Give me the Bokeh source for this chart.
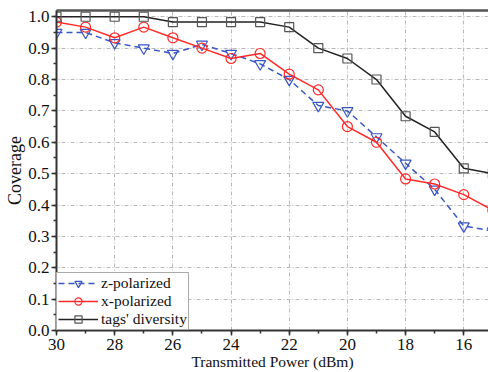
from bokeh.plotting import figure
from bokeh.models import Range1d, SingleIntervalTicker, LinearAxis, FixedTicker, Legend, LegendItem, NumeralTickFormatter
from bokeh.embed import file_html
from bokeh.resources import INLINE

power = [30, 29, 28, 27, 26, 25, 24, 23, 22, 21, 20, 19, 18, 17, 16, 15]
z_polarized = [0.950, 0.950, 0.917, 0.900, 0.883, 0.912, 0.883, 0.850, 0.800, 0.717, 0.700, 0.617, 0.533, 0.450, 0.333, 0.317]
x_polarized = [0.983, 0.967, 0.933, 0.967, 0.933, 0.900, 0.867, 0.883, 0.817, 0.767, 0.650, 0.600, 0.483, 0.467, 0.433, 0.383]
diversity = [1.000, 1.000, 1.000, 1.000, 0.983, 0.983, 0.983, 0.983, 0.967, 0.900, 0.867, 0.800, 0.683, 0.633, 0.517, 0.500]
x_label = "Transmitted Power (dBm)"
y_label = "Coverage"
names = ["z-polarized", "x-polarized", "tags' diversity"]

FONT = "Liberation Serif"

p = figure(width=488, height=372, output_backend="svg", toolbar_location=None,
           x_range=Range1d(30, 15.15), y_range=Range1d(0, 1.02),
           min_border_left=56, min_border_right=0, min_border_top=10, min_border_bottom=0)
p.outline_line_color = None
p.background_fill_color = "white"
p.border_fill_color = "white"

# axes
p.xaxis.ticker = SingleIntervalTicker(interval=2, num_minor_ticks=2)
p.yaxis.ticker = SingleIntervalTicker(interval=0.1, num_minor_ticks=2)
p.yaxis.formatter = NumeralTickFormatter(format="0.0")
for ax in (p.xaxis[0], p.yaxis[0]):
    ax.axis_line_width = 2
    ax.axis_line_color = "#333333"
    ax.major_tick_line_color = "#333333"
    ax.minor_tick_line_color = "#333333"
    ax.major_tick_line_width = 1.5
    ax.minor_tick_line_width = 1.5
    ax.major_tick_in = 0
    ax.major_tick_out = 5
    ax.minor_tick_in = 0
    ax.minor_tick_out = 3
    ax.major_label_text_font = FONT
    ax.major_label_text_font_size = "17px"
    ax.major_label_text_color = "#111111"
    ax.axis_label_text_font = FONT
    ax.axis_label_text_font_style = "normal"
    ax.axis_label_text_color = "#111111"
    ax.major_label_standoff = 2
    ax.axis_label_standoff = 0
p.xaxis.axis_label = x_label
p.yaxis.axis_label = y_label
p.xaxis.axis_label_text_font_size = "15.5px"
p.yaxis.axis_label_text_font_size = "18px"
p.xaxis.major_label_standoff = 3

top = LinearAxis(ticker=FixedTicker(ticks=[]), axis_line_width=2.5, axis_line_color="#555555",
                 major_label_text_font_size="0px", major_tick_line_color=None, minor_tick_line_color=None)
p.add_layout(top, "above")

for g in (p.xgrid[0], p.ygrid[0]):
    g.grid_line_color = "#b8b8b8"
    g.grid_line_dash = "4 2 1 2"
    g.grid_line_width = 1

# series
rz_l = p.line(power, z_polarized, line_color="#3a56c4", line_width=1.5, line_dash="6 4")
rz_m = p.scatter(power, z_polarized, marker="inverted_triangle", size=11, line_color="#3a56c4",
                 fill_color=None, line_width=1.2)
rx_l = p.line(power, x_polarized, line_color="#ff2a2a", line_width=1.5)
rx_m = p.scatter(power, x_polarized, marker="circle", size=10, line_color="#ff2a2a",
                 fill_color=None, line_width=1.2)
rd_l = p.line(power, diversity, line_color="#222222", line_width=1.5)
rd_m = p.scatter(power, diversity, marker="square", size=9, line_color="#555555",
                 fill_color=None, line_width=1.2)

legend = Legend(items=[LegendItem(label=names[0], renderers=[rz_l, rz_m]),
                       LegendItem(label=names[1], renderers=[rx_l, rx_m]),
                       LegendItem(label=names[2], renderers=[rd_l, rd_m])],
                location="bottom_left", margin=0, padding=1, spacing=0,
                glyph_width=40, glyph_height=18, label_height=18, label_standoff=3,
                label_text_font=FONT, label_text_font_size="15.5px", label_text_color="#111111",
                border_line_color="#555555", border_line_width=1.2,
                background_fill_color="white", background_fill_alpha=1.0)
p.add_layout(legend)

open("out.html", "w").write(file_html(p, INLINE))
